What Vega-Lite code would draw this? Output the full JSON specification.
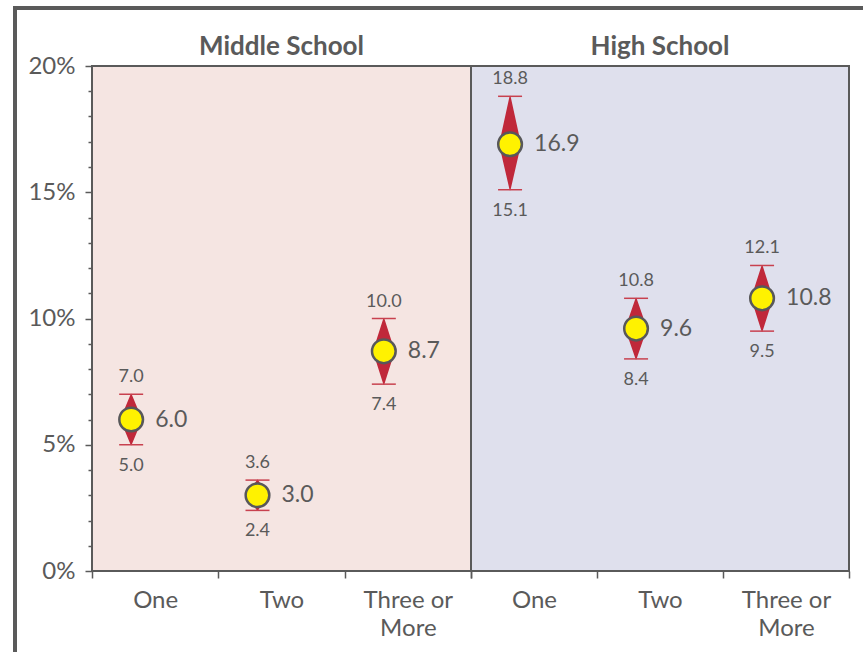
{
  "$schema": "https://vega.github.io/schema/vega-lite/v6.json",
  "padding": {"left": 12, "top": 5, "right": 0, "bottom": 0},
  "background": "white",
  "config": {
    "font": "Lato",
    "view": {"stroke": "#5a5a5a", "strokeWidth": 2},
    "title": {"fontSize": 26, "fontWeight": "bold", "color": "#5a5a5a", "baseline": "alphabetic", "anchor": "middle", "frame": "group", "font": "Lato"},
    "axis": {"labelFont": "Lato", "labelColor": "#5a5a5a", "labelFontSize": 24, "domain": false, "tickColor": "#5a5a5a", "tickWidth": 1.5, "grid": false, "title": null},
    "axisY": {"labelOverlap": false}
  },
  "datasets": {
    "d": [
      {"school": "Middle School", "cat": "One", "val": 6.0, "lo": 5.0, "hi": 7.0},
      {"school": "Middle School", "cat": "Two", "val": 3.0, "lo": 2.4, "hi": 3.6},
      {"school": "Middle School", "cat": "Three or More", "val": 8.7, "lo": 7.4, "hi": 10.0},
      {"school": "High School", "cat": "One", "val": 16.9, "lo": 15.1, "hi": 18.8},
      {"school": "High School", "cat": "Two", "val": 9.6, "lo": 8.4, "hi": 10.8},
      {"school": "High School", "cat": "Three or More", "val": 10.8, "lo": 9.5, "hi": 12.1}
    ]
  },
  "bounds": "flush",
  "spacing": 0,
  "vconcat": [
    {
      "width": 850, "height": 4,
      "view": {"fill": "#5a5a5a", "stroke": null},
      "data": {"values": [{"a": 1}]},
      "mark": {"type": "point", "opacity": 0},
      "encoding": {}
    },
    {
      "bounds": "flush",
      "spacing": 75,
      "hconcat": [
        {
          "width": 4, "height": 642,
          "view": {"fill": "#5a5a5a", "stroke": null},
          "data": {"values": [{"a": 1}]},
          "mark": {"type": "point", "opacity": 0},
          "encoding": {}
        },
        {
          "bounds": "flush",
          "spacing": 0,
          "vconcat": [
            {
              "width": 757, "height": 56,
              "view": {"stroke": null},
              "data": {"values": [{"a": 1}]},
              "mark": {"type": "point", "opacity": 0},
              "encoding": {}
            },
            {
              "bounds": "flush",
              "spacing": 0,
              "hconcat": [
                {
                  "width": 379, "height": 505,
                  "title": {"text": "Middle School", "offset": -6},
                  "view": {"fill": "#f5e5e2"},
                  "data": {"name": "d"},
                  "transform": [{"filter": "datum.school === 'Middle School'"}],
                  "encoding": {
                    "x": {"field": "cat", "type": "nominal", "sort": ["One", "Two", "Three or More"], "bandPosition": 0.31,
                      "scale": {"paddingInner": 0, "paddingOuter": 0},
                      "axis": {"tickBand": "extent", "tickSize": 7, "labelPadding": 10, "labelAngle": 0, "labelBaseline": "top", "labelLineHeight": 28,
                        "labelExpr": "datum.label === 'Three or More' ? ['Three or', 'More'] : datum.label"}}
                  },
                  "layer": [
                    {
                      "transform": [{"fold": ["lo", "val", "hi"], "as": ["k", "v"]}],
                      "mark": {"type": "trail", "color": "#c0283a"},
                      "encoding": {
                        "y": {"field": "v", "type": "quantitative", "scale": {"domain": [0, 20], "nice": false},
                          "axis": {"values": [0,1,2,3,4,5,6,7,8,9,10,11,12,13,14,15,16,17,18,19,20],
                            "labelExpr": "datum.value % 5 === 0 ? datum.value + '%' : ''",
                            "labelOverlap": false,
                            "labelFontSize": {"condition": {"test": "datum.value % 5 === 0", "value": 24}, "value": 1},
                            "tickSize": {"condition": {"test": "datum.value % 5 === 0", "value": 7}, "value": 4},
                            "labelPadding": 10}},
                        "order": {"field": "v", "type": "quantitative"},
                        "detail": {"field": "cat"},
                        "size": {"condition": {"test": "datum.k === 'val'", "value": 22}, "value": 0}
                      }
                    },
                    {
                      "transform": [{"fold": ["lo", "hi"], "as": ["k", "v"]}],
                      "mark": {"type": "point", "shape": "stroke", "size": 576, "stroke": "#c8414f", "strokeWidth": 1.5, "filled": false, "opacity": 1},
                      "encoding": {"y": {"field": "v", "type": "quantitative",
                          "axis": {"values": [0,1,2,3,4,5,6,7,8,9,10,11,12,13,14,15,16,17,18,19,20],
                            "labelExpr": "datum.value % 5 === 0 ? datum.value + '%' : ''",
                            "labelOverlap": false,
                            "labelFontSize": {"condition": {"test": "datum.value % 5 === 0", "value": 24}, "value": 1},
                            "tickSize": {"condition": {"test": "datum.value % 5 === 0", "value": 7}, "value": 4},
                            "labelPadding": 10}}}
                    },
                    {
                      "mark": {"type": "point", "shape": "circle", "filled": true, "fill": "#fff200", "stroke": "#58585a", "strokeWidth": 2.5, "size": 560, "opacity": 1},
                      "encoding": {"y": {"field": "val", "type": "quantitative",
                          "axis": {"values": [0,1,2,3,4,5,6,7,8,9,10,11,12,13,14,15,16,17,18,19,20],
                            "labelExpr": "datum.value % 5 === 0 ? datum.value + '%' : ''",
                            "labelOverlap": false,
                            "labelFontSize": {"condition": {"test": "datum.value % 5 === 0", "value": 24}, "value": 1},
                            "tickSize": {"condition": {"test": "datum.value % 5 === 0", "value": 7}, "value": 4},
                            "labelPadding": 10}}}
                    },
                    {
                      "mark": {"type": "text", "align": "left", "baseline": "middle", "dx": 24, "fontSize": 23, "color": "#5a5a5a"},
                      "encoding": {"y": {"field": "val", "type": "quantitative",
                          "axis": {"values": [0,1,2,3,4,5,6,7,8,9,10,11,12,13,14,15,16,17,18,19,20],
                            "labelExpr": "datum.value % 5 === 0 ? datum.value + '%' : ''",
                            "labelOverlap": false,
                            "labelFontSize": {"condition": {"test": "datum.value % 5 === 0", "value": 24}, "value": 1},
                            "tickSize": {"condition": {"test": "datum.value % 5 === 0", "value": 7}, "value": 4},
                            "labelPadding": 10}},
                        "text": {"field": "val", "type": "quantitative", "format": ".1f"}}
                    },
                    {
                      "mark": {"type": "text", "align": "center", "baseline": "alphabetic", "dy": -12, "fontSize": 18, "color": "#5a5a5a"},
                      "encoding": {"y": {"field": "hi", "type": "quantitative",
                          "axis": {"values": [0,1,2,3,4,5,6,7,8,9,10,11,12,13,14,15,16,17,18,19,20],
                            "labelExpr": "datum.value % 5 === 0 ? datum.value + '%' : ''",
                            "labelOverlap": false,
                            "labelFontSize": {"condition": {"test": "datum.value % 5 === 0", "value": 24}, "value": 1},
                            "tickSize": {"condition": {"test": "datum.value % 5 === 0", "value": 7}, "value": 4},
                            "labelPadding": 10}},
                        "text": {"field": "hi", "type": "quantitative", "format": ".1f"}}
                    },
                    {
                      "mark": {"type": "text", "align": "center", "baseline": "top", "dy": 12, "fontSize": 18, "color": "#5a5a5a"},
                      "encoding": {"y": {"field": "lo", "type": "quantitative",
                          "axis": {"values": [0,1,2,3,4,5,6,7,8,9,10,11,12,13,14,15,16,17,18,19,20],
                            "labelExpr": "datum.value % 5 === 0 ? datum.value + '%' : ''",
                            "labelOverlap": false,
                            "labelFontSize": {"condition": {"test": "datum.value % 5 === 0", "value": 24}, "value": 1},
                            "tickSize": {"condition": {"test": "datum.value % 5 === 0", "value": 7}, "value": 4},
                            "labelPadding": 10}},
                        "text": {"field": "lo", "type": "quantitative", "format": ".1f"}}
                    }
                  ]
                },
                {
                  "width": 378, "height": 505,
                  "title": {"text": "High School", "offset": 6},
                  "view": {"fill": "#dfe0ed"},
                  "data": {"name": "d"},
                  "transform": [{"filter": "datum.school === 'High School'"}],
                  "encoding": {
                    "x": {"field": "cat", "type": "nominal", "sort": ["One", "Two", "Three or More"], "bandPosition": 0.31,
                      "scale": {"paddingInner": 0, "paddingOuter": 0},
                      "axis": {"tickBand": "extent", "tickSize": 7, "labelPadding": 10, "labelAngle": 0, "labelBaseline": "top", "labelLineHeight": 28,
                        "labelExpr": "datum.label === 'Three or More' ? ['Three or', 'More'] : datum.label"}}
                  },
                  "layer": [
                    {
                      "transform": [{"fold": ["lo", "val", "hi"], "as": ["k", "v"]}],
                      "mark": {"type": "trail", "color": "#c0283a"},
                      "encoding": {
                        "y": {"field": "v", "type": "quantitative", "scale": {"domain": [0, 20], "nice": false}, "axis": null},
                        "order": {"field": "v", "type": "quantitative"},
                        "detail": {"field": "cat"},
                        "size": {"condition": {"test": "datum.k === 'val'", "value": 22}, "value": 0}
                      }
                    },
                    {
                      "transform": [{"fold": ["lo", "hi"], "as": ["k", "v"]}],
                      "mark": {"type": "point", "shape": "stroke", "size": 576, "stroke": "#c8414f", "strokeWidth": 1.5, "filled": false, "opacity": 1},
                      "encoding": {"y": {"field": "v", "type": "quantitative", "axis": null}}
                    },
                    {
                      "mark": {"type": "point", "shape": "circle", "filled": true, "fill": "#fff200", "stroke": "#58585a", "strokeWidth": 2.5, "size": 560, "opacity": 1},
                      "encoding": {"y": {"field": "val", "type": "quantitative", "axis": null}}
                    },
                    {
                      "mark": {"type": "text", "align": "left", "baseline": "middle", "dx": 24, "fontSize": 23, "color": "#5a5a5a"},
                      "encoding": {"y": {"field": "val", "type": "quantitative", "axis": null}, "text": {"field": "val", "type": "quantitative", "format": ".1f"}}
                    },
                    {
                      "mark": {"type": "text", "align": "center", "baseline": "alphabetic", "dy": -12, "fontSize": 18, "color": "#5a5a5a"},
                      "encoding": {"y": {"field": "hi", "type": "quantitative", "axis": null}, "text": {"field": "hi", "type": "quantitative", "format": ".1f"}}
                    },
                    {
                      "mark": {"type": "text", "align": "center", "baseline": "top", "dy": 12, "fontSize": 18, "color": "#5a5a5a"},
                      "encoding": {"y": {"field": "lo", "type": "quantitative", "axis": null}, "text": {"field": "lo", "type": "quantitative", "format": ".1f"}}
                    }
                  ]
                }
              ]
            }
          ]
        }
      ]
    }
  ]
}
